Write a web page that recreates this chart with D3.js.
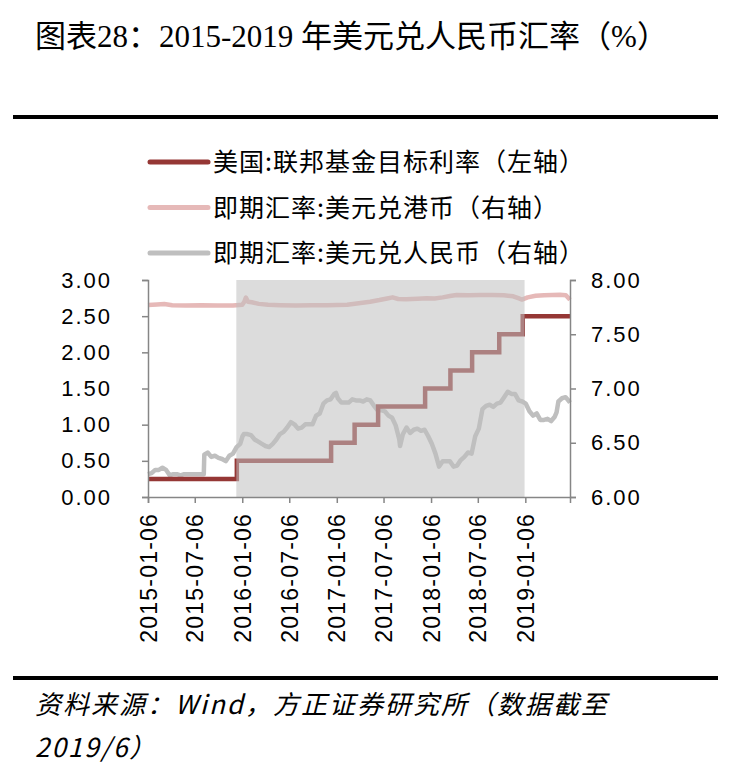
<!DOCTYPE html>
<html>
<head>
<meta charset="utf-8">
<script src="https://cdn.jsdelivr.net/npm/d3@7"></script>
<style>
body { margin: 0; background: #fff; }
</style>
</head>
<body>
<div id="chart"></div>
<script>
// 2015-2019 USD/CNY, USD/HKD and Fed funds target rate
// left axis = fed rate (%), right axis = spot rates

const titleText = "图表28：2015-2019 年美元兑人民币汇率（%）";
const sourceLines = ["资料来源：Wind，方正证券研究所（数据截至", "2019/6）"];
const legendLabels = [
    "美国:联邦基金目标利率（左轴）",
    "即期汇率:美元兑港币（右轴）",
    "即期汇率:美元兑人民币（右轴）"
];
const xTickLabels = ["2015-01-06", "2015-07-06", "2016-01-06", "2016-07-06", "2017-01-06",
    "2017-07-06", "2018-01-06", "2018-07-06", "2019-01-06"];
const leftTicks = [0, 0.5, 1, 1.5, 2, 2.5, 3];
const rightTicks = [6, 6.5, 7, 7.5, 8];
const dateRange = ["2015-01-06", "2019-06-28"];
const hikeCycle = ["2015-12-14", "2019-01-03"];

const fedRate = [
    ["2015-01-06", 0.25], ["2015-12-16", 0.50], ["2016-12-15", 0.75], ["2017-03-16", 1.00],
    ["2017-06-15", 1.25], ["2017-12-14", 1.50], ["2018-03-22", 1.75], ["2018-06-14", 2.00],
    ["2018-09-27", 2.25], ["2018-12-27", 2.50], ["2019-06-28", 2.50]
];

const hkdRate = [
    ["2015-01-06", 7.770], ["2015-02-10", 7.774], ["2015-03-10", 7.778], ["2015-04-10", 7.768],
    ["2015-06-01", 7.766], ["2015-08-01", 7.768], ["2015-10-01", 7.766], ["2015-12-01", 7.766],
    ["2016-01-06", 7.772], ["2016-01-14", 7.800], ["2016-01-20", 7.838], ["2016-01-28", 7.800],
    ["2016-02-12", 7.795], ["2016-03-10", 7.780], ["2016-04-15", 7.772], ["2016-06-01", 7.768],
    ["2016-08-01", 7.766], ["2016-10-01", 7.768], ["2016-12-01", 7.768], ["2017-01-06", 7.770],
    ["2017-02-15", 7.772], ["2017-04-01", 7.785], ["2017-05-15", 7.800], ["2017-06-20", 7.815],
    ["2017-07-20", 7.830], ["2017-08-10", 7.840], ["2017-09-01", 7.825], ["2017-10-01", 7.822],
    ["2017-11-15", 7.828], ["2017-12-20", 7.832], ["2018-01-20", 7.830], ["2018-02-20", 7.840],
    ["2018-03-20", 7.852], ["2018-04-15", 7.862], ["2018-06-01", 7.860], ["2018-07-15", 7.862],
    ["2018-09-01", 7.862], ["2018-10-15", 7.860], ["2018-11-20", 7.850], ["2018-12-10", 7.832],
    ["2018-12-24", 7.820], ["2019-01-15", 7.840], ["2019-02-15", 7.855], ["2019-03-20", 7.860],
    ["2019-04-20", 7.862], ["2019-05-20", 7.864], ["2019-06-12", 7.860], ["2019-06-28", 7.818]
];

const cnyRate = [
    ["2015-01-06", 6.21], ["2015-01-20", 6.22], ["2015-02-03", 6.25], ["2015-02-17", 6.25],
    ["2015-03-03", 6.27], ["2015-03-17", 6.25], ["2015-03-31", 6.20], ["2015-04-14", 6.21],
    ["2015-04-28", 6.21], ["2015-05-12", 6.20], ["2015-05-26", 6.21], ["2015-06-09", 6.21],
    ["2015-06-23", 6.21], ["2015-07-07", 6.21], ["2015-07-21", 6.21], ["2015-08-10", 6.21],
    ["2015-08-12", 6.39], ["2015-08-25", 6.41], ["2015-09-08", 6.37], ["2015-09-22", 6.38],
    ["2015-10-06", 6.36], ["2015-10-20", 6.35], ["2015-11-03", 6.33], ["2015-11-17", 6.38],
    ["2015-12-01", 6.40], ["2015-12-15", 6.46], ["2015-12-29", 6.49], ["2016-01-07", 6.56],
    ["2016-01-12", 6.58], ["2016-01-26", 6.58], ["2016-02-09", 6.57], ["2016-02-23", 6.53],
    ["2016-03-08", 6.51], ["2016-03-22", 6.49], ["2016-04-05", 6.47], ["2016-04-19", 6.46],
    ["2016-05-03", 6.49], ["2016-05-17", 6.53], ["2016-05-31", 6.58], ["2016-06-14", 6.60],
    ["2016-06-28", 6.64], ["2016-07-12", 6.69], ["2016-07-26", 6.67], ["2016-08-09", 6.63],
    ["2016-08-23", 6.64], ["2016-09-06", 6.67], ["2016-09-20", 6.67], ["2016-10-04", 6.67],
    ["2016-10-18", 6.75], ["2016-11-01", 6.77], ["2016-11-15", 6.86], ["2016-11-29", 6.89],
    ["2016-12-13", 6.90], ["2016-12-27", 6.95], ["2017-01-03", 6.96], ["2017-01-10", 6.91],
    ["2017-01-24", 6.87], ["2017-02-07", 6.87], ["2017-02-21", 6.87], ["2017-03-07", 6.90],
    ["2017-03-21", 6.89], ["2017-04-04", 6.89], ["2017-04-18", 6.88], ["2017-05-02", 6.90],
    ["2017-05-16", 6.89], ["2017-05-30", 6.84], ["2017-06-13", 6.80], ["2017-06-27", 6.80],
    ["2017-07-11", 6.79], ["2017-07-25", 6.75], ["2017-08-08", 6.73], ["2017-08-22", 6.66],
    ["2017-09-05", 6.53], ["2017-09-08", 6.47], ["2017-09-19", 6.58], ["2017-10-03", 6.64],
    ["2017-10-17", 6.59], ["2017-10-31", 6.62], ["2017-11-14", 6.63], ["2017-11-28", 6.61],
    ["2017-12-12", 6.62], ["2017-12-26", 6.56], ["2018-01-09", 6.49], ["2018-01-23", 6.40],
    ["2018-02-06", 6.28], ["2018-02-20", 6.33], ["2018-03-06", 6.33], ["2018-03-20", 6.33],
    ["2018-04-03", 6.28], ["2018-04-17", 6.29], ["2018-05-01", 6.34], ["2018-05-15", 6.37],
    ["2018-05-29", 6.41], ["2018-06-12", 6.40], ["2018-06-26", 6.56], ["2018-07-10", 6.63],
    ["2018-07-24", 6.81], ["2018-08-07", 6.84], ["2018-08-21", 6.85], ["2018-09-04", 6.83],
    ["2018-09-18", 6.86], ["2018-10-02", 6.87], ["2018-10-16", 6.92], ["2018-10-30", 6.97],
    ["2018-11-13", 6.95], ["2018-11-27", 6.95], ["2018-12-11", 6.89], ["2018-12-25", 6.88],
    ["2019-01-08", 6.86], ["2019-01-22", 6.79], ["2019-02-05", 6.75], ["2019-02-19", 6.77],
    ["2019-03-05", 6.71], ["2019-03-19", 6.71], ["2019-04-02", 6.72], ["2019-04-16", 6.70],
    ["2019-04-30", 6.74], ["2019-05-07", 6.78], ["2019-05-14", 6.88], ["2019-05-28", 6.91],
    ["2019-06-11", 6.92], ["2019-06-25", 6.88], ["2019-06-28", 6.87]
];

const svgWidth = 730;
const svgHeight = 772;
const margin = { top: 280, right: 160, bottom: 275, left: 148 };
const width = svgWidth - margin.left - margin.right;
const height = svgHeight - margin.top - margin.bottom;

const cjk = "'Noto Sans CJK SC', sans-serif";
const serifCjk = "'Liberation Serif', 'Noto Sans CJK SC', serif";
const colors = ["#953735", "#e6b9b8", "#bfbfbf"];
const axisColor = "#868686";

const parse = d3.timeParse("%Y-%m-%d");

const svg = d3.select("#chart")
    .append("svg")
    .attr("width", svgWidth)
    .attr("height", svgHeight);

// title
svg.append("text")
    .attr("x", 35)
    .attr("y", 47)
    .attr("font-family", serifCjk)
    .attr("font-size", "31px")
    .attr("fill", "#000")
    .text(titleText);

// heavy rules
svg.append("rect").attr("x", 13).attr("y", 115).attr("width", 705).attr("height", 4).attr("fill", "#000");
svg.append("rect").attr("x", 13).attr("y", 676).attr("width", 705).attr("height", 4).attr("fill", "#000");

// legend
const legend = svg.append("g");
legendLabels.forEach(function(label, i) {
    const y = 162 + i * 45.5;
    legend.append("line")
        .attr("x1", 150).attr("x2", 208)
        .attr("y1", y).attr("y2", y)
        .attr("stroke", colors[i])
        .attr("stroke-width", 5)
        .attr("stroke-linecap", "round");
    legend.append("text")
        .attr("x", 213)
        .attr("y", y)
        .attr("dy", "0.36em")
        .attr("font-family", cjk)
        .attr("font-size", "25px")
        .attr("letter-spacing", "1px")
        .attr("fill", "#000")
        .text(label);
});

const chart = svg.append("g")
    .attr("transform", `translate(${margin.left},${margin.top})`);

const x = d3.scaleTime()
    .domain(dateRange.map(parse))
    .range([0, width]);

const yLeft = d3.scaleLinear().domain([0, 3]).range([height, 0]);
const yRight = d3.scaleLinear().domain([6, 8]).range([height, 0]);

const lineLeft = d3.line()
    .x(d => x(parse(d[0])))
    .y(d => yLeft(d[1]))
    .curve(d3.curveStepAfter);

const lineRight = d3.line()
    .x(d => x(parse(d[0])))
    .y(d => yRight(d[1]));

chart.append("path")
    .datum(hkdRate)
    .attr("d", lineRight)
    .attr("fill", "none")
    .attr("stroke", colors[1])
    .attr("stroke-width", 4.5)
    .attr("stroke-linejoin", "round");

chart.append("path")
    .datum(cnyRate)
    .attr("d", lineRight)
    .attr("fill", "none")
    .attr("stroke", colors[2])
    .attr("stroke-width", 4.5)
    .attr("stroke-linejoin", "round");

chart.append("path")
    .datum(fedRate)
    .attr("d", lineLeft)
    .attr("fill", "none")
    .attr("stroke", colors[0])
    .attr("stroke-width", 4.5);

// hiking cycle shading, drawn over the lines
chart.append("rect")
    .attr("x", x(parse(hikeCycle[0])))
    .attr("y", 0)
    .attr("width", x(parse(hikeCycle[1])) - x(parse(hikeCycle[0])))
    .attr("height", height)
    .attr("fill", "#c0c0c0")
    .attr("fill-opacity", 0.55);

// axes
const fmt = d3.format(".2f");

const gLeft = chart.append("g")
    .call(d3.axisLeft(yLeft).tickValues(leftTicks).tickFormat(fmt).tickSize(6).tickPadding(30));

const gRight = chart.append("g")
    .attr("transform", `translate(${width},0)`)
    .call(d3.axisRight(yRight).tickValues(rightTicks).tickFormat(fmt).tickSize(6).tickPadding(15));

const gBottom = chart.append("g")
    .attr("transform", `translate(0,${height})`)
    .call(d3.axisBottom(x).tickValues(xTickLabels.map(parse)).tickFormat(d3.timeFormat("%Y-%m-%d")).tickSize(6));

gBottom.selectAll("text")
    .attr("transform", "rotate(-90)")
    .attr("text-anchor", "end")
    .attr("x", -16)
    .attr("y", 0)
    .attr("dy", "0.35em")
    .attr("font-size", "23px")
    .attr("letter-spacing", "1.2px");

[gLeft, gRight].forEach(function(g) {
    g.selectAll("text")
        .attr("font-size", "22px")
        .attr("letter-spacing", "2px");
});

[gLeft, gRight, gBottom].forEach(function(g) {
    g.selectAll("path, line").attr("stroke", axisColor).attr("stroke-width", 1.5);
    g.selectAll("text")
        .attr("font-family", "'Liberation Sans', Arial, sans-serif")
        .attr("fill", "#000");
});

// footer
sourceLines.forEach(function(line, i) {
    svg.append("text")
        .attr("x", 35)
        .attr("y", 714 + i * 43)
        .attr("font-family", cjk)
        .attr("font-style", "italic")
        .attr("font-size", "26px")
        .attr("letter-spacing", "2px")
        .attr("fill", "#000")
        .text(line);
});
</script>
</body>
</html>
